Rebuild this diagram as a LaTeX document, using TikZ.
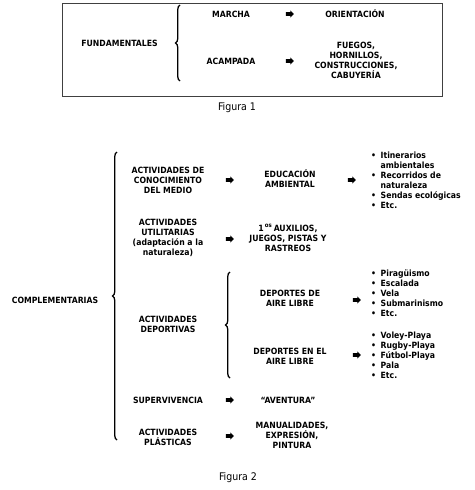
\documentclass[tikz,border=0pt]{standalone}
\usepackage{fontspec}
\setmainfont{DejaVu Sans Condensed}
\usetikzlibrary{shapes.arrows,decorations.pathreplacing}
\newcommand{\bul}{\makebox[9.5pt][l]{•}}
\newcommand{\nob}{\hspace*{9.5pt}}
\begin{document}
\begin{tikzpicture}[x=1pt,y=1pt,
  lbl/.style={font=\bfseries\fontsize{8.6}{10}\selectfont, align=center, inner sep=0pt},
  lst/.style={font=\bfseries\fontsize{8.6}{10}\selectfont, align=left, anchor=west, inner sep=0pt},
  figcap/.style={font=\fontsize{10.5}{12}\selectfont, inner sep=0pt},
  arr/.style={single arrow, fill=black, draw=none, minimum height=8pt, inner sep=1.7pt,
              single arrow head extend=1.7pt},
  bracebig/.style={line width=1.3pt, decorate, decoration={brace, amplitude=4.5pt}}
]
\useasboundingbox (0,0) rectangle (474,-490);
% ---------- Figura 1 ----------
\node[draw=black!75, line width=0.9pt, minimum width=380pt, minimum height=93pt, inner sep=0pt, anchor=north west] (box1) at (62,-3) {};
\node[lbl] (fund) at (119.5,-43) {FUNDAMENTALES};
\coordinate (b1t) at (180,-5);
\coordinate (b1b) at (180,-81);
\draw[bracebig] (b1b) -- (b1t);
\node[lbl] (marcha) at (231,-14) {MARCHA};
\node[arr] (a11) at (289,-14) {};
\node[lbl] (orient) at (355,-14) {ORIENTACIÓN};
\node[lbl] (acamp) at (231,-61) {ACAMPADA};
\node[arr] (a12) at (289,-61) {};
\node[lbl] (fuegos) at (356,-60) {FUEGOS,\\HORNILLOS,\\CONSTRUCCIONES,\\CABUYERÍA};
\node[figcap] (fig1) at (237,-108) {Figura 1};
% ---------- Figura 2 ----------
\node[lbl] (compl) at (55,-300) {COMPLEMENTARIAS};
\coordinate (b2t) at (117,-152);
\coordinate (b2b) at (117,-440);
\draw[bracebig] (b2b) -- (b2t);
% row 1
\node[lbl] (acm) at (168,-180) {ACTIVIDADES DE\\CONOCIMIENTO\\DEL MEDIO};
\node[arr] (a21) at (229,-180) {};
\node[lbl] (edu) at (290,-179) {EDUCACIÓN\\AMBIENTAL};
\node[arr] (a22) at (351,-180) {};
\node[lst] (l1) at (371,-180) {\bul Itinerarios\\\nob ambientales\\\bul Recorridos de\\\nob naturaleza\\\bul Sendas ecológicas\\\bul Etc.};
% row 2
\node[lbl] (util) at (168,-238) {ACTIVIDADES\\UTILITARIAS\\(adaptación a la\\naturaleza)};
\node[arr] (a23) at (229,-239) {};
\node[lbl] (aux) at (288,-238) {1\textsuperscript{\,os}\,AUXILIOS,\\JUEGOS, PISTAS Y\\RASTREOS};
% row 3
\node[lbl] (dep) at (168,-324) {ACTIVIDADES\\DEPORTIVAS};
\coordinate (b3t) at (230,-272);
\coordinate (b3b) at (230,-378);
\draw[bracebig] (b3b) -- (b3t);
\node[lbl] (dal) at (290,-298) {DEPORTES DE\\AIRE LIBRE};
\node[arr] (a24) at (356,-300) {};
\node[lst] (l2) at (371,-293) {\bul Piragüismo\\\bul Escalada\\\bul Vela\\\bul Submarinismo\\\bul Etc.};
\node[lbl] (deal) at (290,-356) {DEPORTES EN EL\\AIRE LIBRE};
\node[arr] (a25) at (356,-355) {};
\node[lst] (l3) at (371,-355) {\bul Voley-Playa\\\bul Rugby-Playa\\\bul Fútbol-Playa\\\bul Pala\\\bul Etc.};
% row 4
\node[lbl] (sup) at (168,-400) {SUPERVIVENCIA};
\node[arr] (a26) at (229,-400) {};
\node[lbl] (avent) at (288,-400) {“AVENTURA”};
% row 5
\node[lbl] (plast) at (168,-437) {ACTIVIDADES\\PLÁSTICAS};
\node[arr] (a27) at (229,-436) {};
\node[lbl] (manu) at (292,-435) {MANUALIDADES,\\EXPRESIÓN,\\PINTURA};
\node[figcap] (fig2) at (238,-478) {Figura 2};
\end{tikzpicture}
\end{document}
